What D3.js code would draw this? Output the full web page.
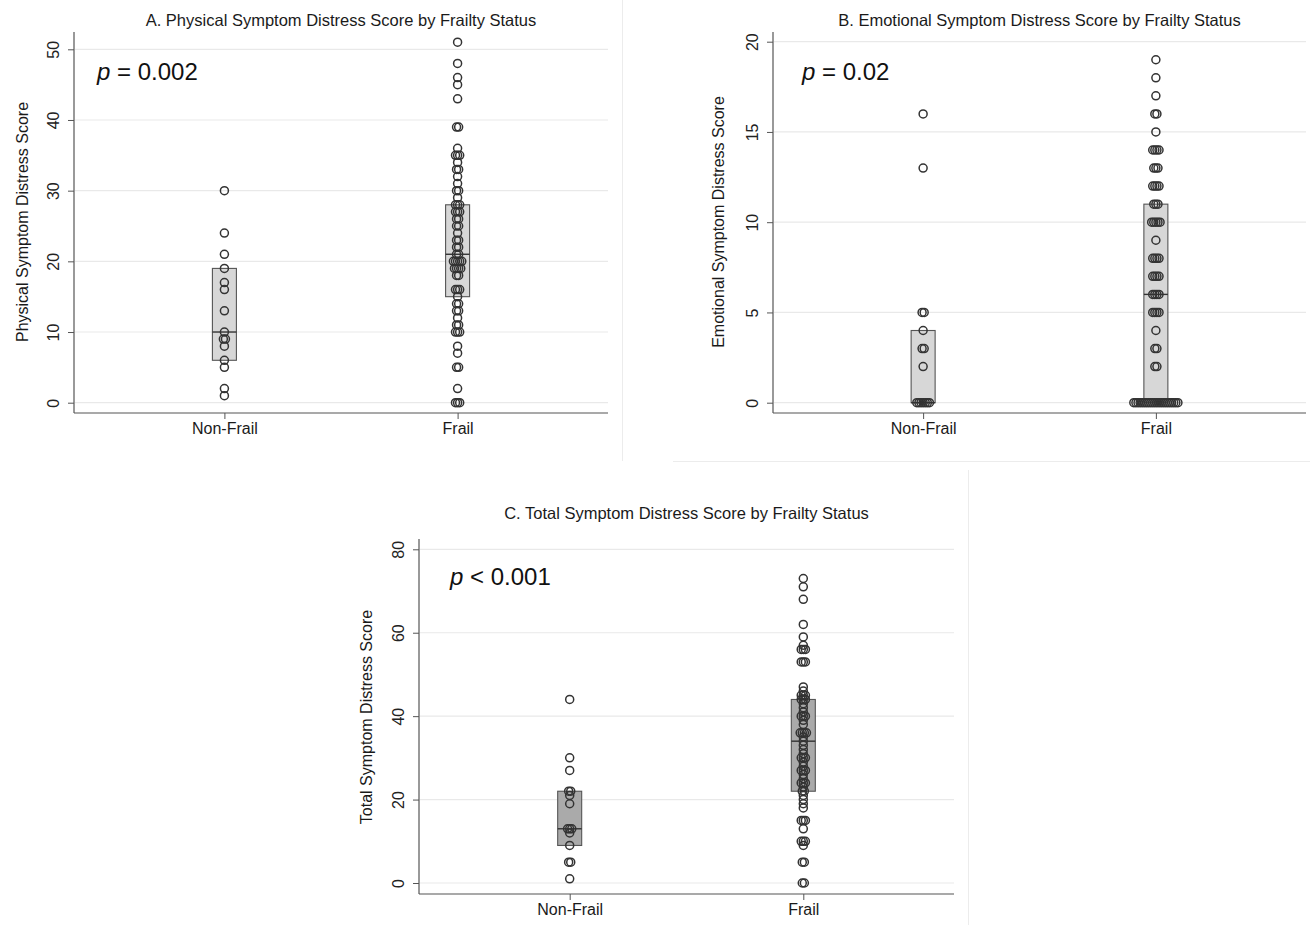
<!DOCTYPE html>
<html>
<head>
<meta charset="utf-8">
<script src="https://cdn.jsdelivr.net/npm/d3@7"></script>
<style>
  html, body { margin: 0; padding: 0; background: #fff; }
  svg { display: block; }
  text { font-family: "Liberation Sans", Arial, sans-serif; }
</style>
</head>
<body>
<svg id="chart" width="1310" height="925"></svg>
<script>
// ---------------- DATA ----------------
const categories = ["Non-Frail", "Frail"];

const physTicks = [0, 10, 20, 30, 40, 50];
const emoTicks = [0, 5, 10, 15, 20];
const totalTicks = [0, 20, 40, 60, 80];

const physNonFrail = [30, 24, 21, 19, 17, 16, 13, 10, 9, 9, 8, 6, 5, 2, 1];
const physFrail = [51, 48, 46, 45, 43, 39, 39, 36, 35, 35, 35, 34, 33, 33, 32, 31, 30, 30, 29,
  28, 28, 28, 27, 27, 27, 26, 26, 25, 25, 24, 23, 23, 22, 22, 21, 21, 20, 20, 20, 20, 20,
  19, 19, 19, 19, 18, 18, 16, 16, 16, 15, 14, 14, 13, 13, 12, 11, 11, 10, 10, 10, 8, 7,
  5, 5, 2, 0, 0, 0];

const emoNonFrail = [16, 13, 5, 5, 4, 3, 3, 2, 0, 0, 0, 0, 0, 0, 0];
const emoFrail = [19, 18, 17, 16, 16, 15, 14, 14, 14, 14, 13, 13, 13, 12, 12, 12, 12, 11, 11, 11,
  10, 10, 10, 10, 10, 9, 8, 8, 8, 8, 7, 7, 7, 7, 6, 6, 6, 6, 5, 5, 5, 5, 4, 3, 3, 2, 2,
  0, 0, 0, 0, 0, 0, 0, 0, 0, 0, 0, 0, 0, 0, 0, 0, 0, 0, 0, 0, 0, 0];

const totalNonFrail = [44, 30, 27, 22, 22, 21, 19, 13, 13, 13, 12, 9, 5, 5, 1];
const totalFrail = [73, 71, 68, 62, 59, 57, 56, 56, 56, 53, 53, 53, 47, 46, 45, 45, 45, 44, 44, 44,
  43, 42, 41, 40, 40, 40, 39, 38, 36, 36, 36, 36, 35, 34, 33, 32, 31, 30, 30, 30, 29, 28,
  27, 27, 27, 26, 25, 24, 24, 24, 23, 22, 22, 21, 20, 19, 18, 15, 15, 15, 13, 10, 10, 10,
  9, 5, 5, 0, 0];

// box statistics (25th pct, median, 75th pct) per category
const physQ1 = [6, 15], physMedian = [10, 21], physQ3 = [19, 28];
const emoQ1 = [0, 0], emoMedian = [0, 6], emoQ3 = [4, 11];
const totalQ1 = [9, 22], totalMedian = [13, 34], totalQ3 = [22, 44];

const titles = [
  "A. Physical Symptom Distress Score by Frailty Status",
  "B. Emotional Symptom Distress Score by Frailty Status",
  "C. Total Symptom Distress Score by Frailty Status"
];
const yLabels = [
  "Physical Symptom Distress Score",
  "Emotional Symptom Distress Score",
  "Total Symptom Distress Score"
];
const pOps = ["=", "=", "<"];
const pValues = ["0.002", "0.02", "0.001"];

// ---------------- LAYOUT ----------------
const panels = [
  { x0: 74, x1: 608, top: 32, axisY: 413, y0: 402.7, yMax: 49.3, domMax: 50,
    ticks: physTicks, groups: [physNonFrail, physFrail], q1: physQ1, med: physMedian, q3: physQ3,
    boxFill: "#d7d7d7", title: titles[0], yLabel: yLabels[0], op: pOps[0], p: pValues[0],
    titleY: 25.5, pX: 97, pY: 80, yLabX: 22, yLabY: 222 },
  { x0: 773, x1: 1306, top: 32, axisY: 413, y0: 402.7, yMax: 41.7, domMax: 20,
    ticks: emoTicks, groups: [emoNonFrail, emoFrail], q1: emoQ1, med: emoMedian, q3: emoQ3,
    boxFill: "#d7d7d7", title: titles[1], yLabel: yLabels[1], op: pOps[1], p: pValues[1],
    titleY: 25.5, pX: 802, pY: 80, yLabX: 718, yLabY: 222 },
  { x0: 419, x1: 954, top: 539, axisY: 894, y0: 883, yMax: 549.3, domMax: 80,
    ticks: totalTicks, groups: [totalNonFrail, totalFrail], q1: totalQ1, med: totalMedian, q3: totalQ3,
    boxFill: "#aaaaaa", title: titles[2], yLabel: yLabels[2], op: pOps[2], p: pValues[2],
    titleY: 518.5, pX: 450, pY: 585, yLabX: 366, yLabY: 717 }
];

const svg = d3.select("#chart");
svg.append("rect").attr("width", 1310).attr("height", 925).attr("fill", "#fff");

// faint panel frame edges
const edge = svg.append("g").attr("stroke", "#ececec").attr("stroke-width", 1);
edge.append("line").attr("x1", 622.5).attr("x2", 622.5).attr("y1", 0).attr("y2", 461);
edge.append("line").attr("x1", 673).attr("x2", 1310).attr("y1", 461.5).attr("y2", 461.5);
edge.append("line").attr("x1", 968.5).attr("x2", 968.5).attr("y1", 470).attr("y2", 925);

const R = 4, STEP = 2.1, BOXW = 24;

panels.forEach(P => {
  const g = svg.append("g");
  const x = d3.scalePoint().domain(categories).range([P.x0, P.x1]).padding(0.645);
  const y = d3.scaleLinear().domain([0, P.domMax]).range([P.y0, P.yMax]);

  // gridlines
  g.append("g").selectAll("line").data(P.ticks).join("line")
    .attr("x1", P.x0 + 1).attr("x2", P.x1)
    .attr("y1", d => y(d)).attr("y2", d => y(d))
    .attr("stroke", "#e9e9e9").attr("stroke-width", 1.2);

  // boxes
  categories.forEach((c, i) => {
    const cx = x(c);
    g.append("rect")
      .attr("x", cx - BOXW / 2).attr("width", BOXW)
      .attr("y", y(P.q3[i])).attr("height", Math.max(0.5, y(P.q1[i]) - y(P.q3[i])))
      .attr("fill", P.boxFill).attr("stroke", "#555").attr("stroke-width", 1.1);
    g.append("line")
      .attr("x1", cx - BOXW / 2).attr("x2", cx + BOXW / 2)
      .attr("y1", y(P.med[i])).attr("y2", y(P.med[i]))
      .attr("stroke", "#333").attr("stroke-width", 1.4);
  });

  // points (ties spread horizontally)
  categories.forEach((c, i) => {
    const vals = P.groups[i];
    const counts = d3.rollup(vals, v => v.length, d => d);
    const seen = new Map();
    const pts = vals.map(v => {
      const k = seen.get(v) || 0;
      seen.set(v, k + 1);
      const n = counts.get(v);
      return { v, dx: (k - (n - 1) / 2) * STEP };
    });
    g.append("g").selectAll("circle").data(pts).join("circle")
      .attr("cx", d => x(c) + d.dx)
      .attr("cy", d => y(d.v))
      .attr("r", R)
      .attr("fill", "none")
      .attr("stroke", "#333")
      .attr("stroke-width", 1.5);
  });

  // y axis
  const ya = g.append("g").attr("transform", `translate(${P.x0},0)`)
    .call(d3.axisLeft(y).tickValues(P.ticks).tickFormat(d3.format("d")).tickSize(6));
  ya.select(".domain").remove();
  ya.selectAll(".tick line").attr("stroke", "#555");
  ya.selectAll(".tick text")
    .attr("x", null).attr("dy", "0.35em")
    .attr("transform", "translate(-21,0) rotate(-90)")
    .attr("text-anchor", "middle")
    .attr("fill", "#222").style("font-size", "16px")
    .style("font-family", "'Liberation Sans', Arial, sans-serif");
  g.append("line").attr("x1", P.x0).attr("x2", P.x0).attr("y1", P.top).attr("y2", P.axisY)
    .attr("stroke", "#555").attr("stroke-width", 1.2);

  // x axis
  const xa = g.append("g").attr("transform", `translate(0,${P.axisY})`)
    .call(d3.axisBottom(x).tickSize(6));
  xa.select(".domain").remove();
  xa.selectAll(".tick line").attr("stroke", "#555");
  xa.selectAll(".tick text").attr("y", 10)
    .attr("fill", "#1a1a1a").style("font-size", "16px")
    .style("font-family", "'Liberation Sans', Arial, sans-serif");
  g.append("line").attr("x1", P.x0).attr("x2", P.x1).attr("y1", P.axisY).attr("y2", P.axisY)
    .attr("stroke", "#555").attr("stroke-width", 1.2);

  // y label
  g.append("text")
    .attr("transform", `translate(${P.yLabX},${P.yLabY}) rotate(-90)`)
    .attr("dy", "0.35em").attr("text-anchor", "middle")
    .attr("fill", "#1a1a1a").style("font-size", "16px")
    .text(P.yLabel);

  // title
  g.append("text")
    .attr("x", (P.x0 + P.x1) / 2).attr("y", P.titleY)
    .attr("text-anchor", "middle").attr("fill", "#1a1a1a").style("font-size", "16.5px")
    .text(P.title);

  // p value
  const pt = g.append("text").attr("x", P.pX).attr("y", P.pY)
    .attr("fill", "#111").style("font-size", "24px");
  pt.append("tspan").style("font-style", "italic").text("p");
  pt.append("tspan").text(" " + P.op + " " + P.p);
});
</script>
</body>
</html>
